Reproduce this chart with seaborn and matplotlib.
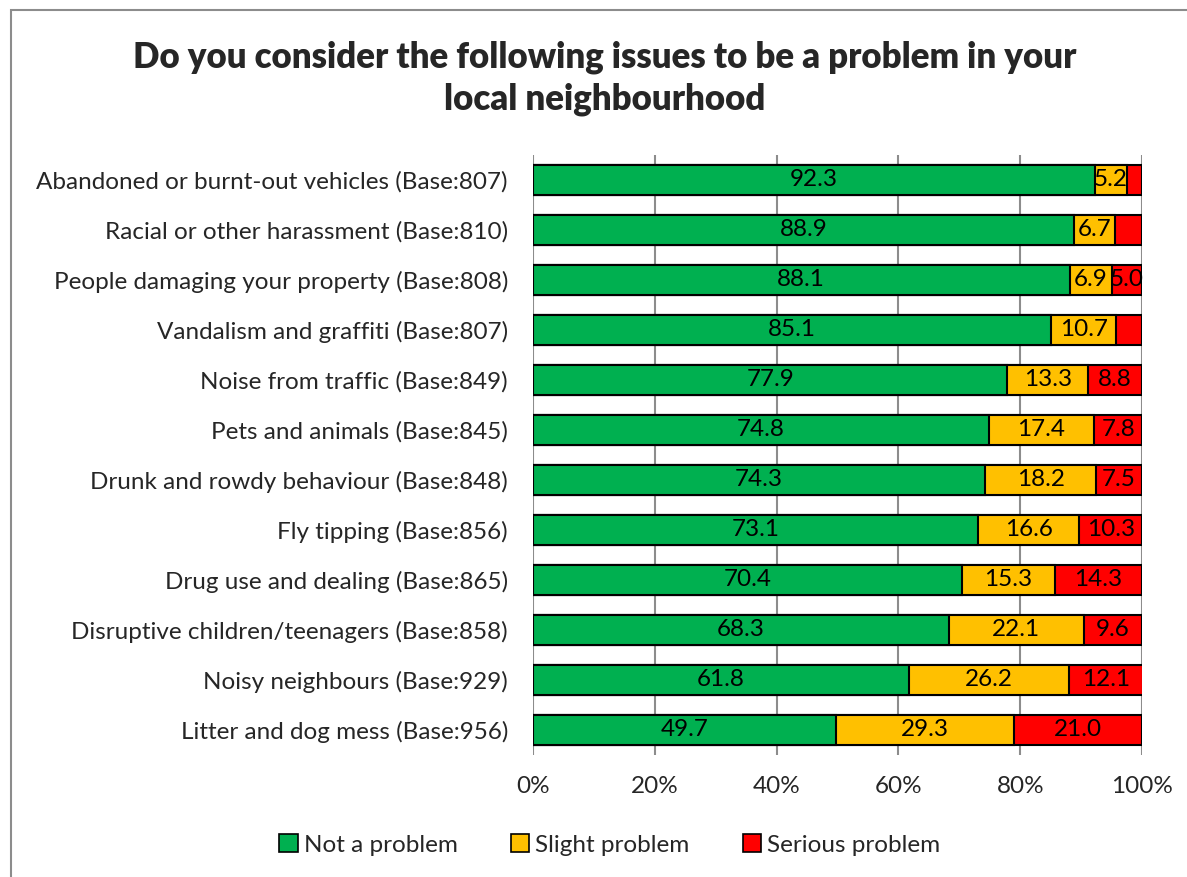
import numpy as np
import pandas as pd
import matplotlib
matplotlib.use("Agg")
import matplotlib.pyplot as plt
import seaborn as sns
from matplotlib.patches import Patch, Rectangle
from matplotlib.ticker import FuncFormatter

categories = [
    "Abandoned or burnt-out vehicles (Base:807)",
    "Racial or other harassment (Base:810)",
    "People damaging your property (Base:808)",
    "Vandalism and graffiti (Base:807)",
    "Noise from traffic (Base:849)",
    "Pets and animals (Base:845)",
    "Drunk and rowdy behaviour (Base:848)",
    "Fly tipping (Base:856)",
    "Drug use and dealing (Base:865)",
    "Disruptive children/teenagers (Base:858)",
    "Noisy neighbours (Base:929)",
    "Litter and dog mess (Base:956)",
]
not_a_problem = [92.3, 88.9, 88.1, 85.1, 77.9, 74.8, 74.3, 73.1, 70.4, 68.3, 61.8, 49.7]
slight_problem = [5.2, 6.7, 6.9, 10.7, 13.3, 17.4, 18.2, 16.6, 15.3, 22.1, 26.2, 29.3]
serious_problem = [2.5, 4.4, 5.0, 4.2, 8.8, 7.8, 7.5, 10.3, 14.3, 9.6, 12.1, 21.0]
series_names = ["Not a problem", "Slight problem", "Serious problem"]
colors = ["#00B050", "#FFC000", "#FF0000"]

sns.set_theme(style="white")
plt.rcParams['font.family'] = ['Lato', 'DejaVu Sans']

df = pd.DataFrame({
    "cat": categories,
    "a": not_a_problem,
    "b": slight_problem,
    "c": serious_problem,
})
df["cum_a"] = df["a"]
df["cum_b"] = df["a"] + df["b"]
df["cum_c"] = df["a"] + df["b"] + df["c"]

fig = plt.figure(figsize=(11.87, 8.77), dpi=100)
ax = fig.add_axes([533/1187, 1-755/877, (1142-533)/1187, 600/877])

ax.set_axisbelow(True)
for x in [0, 20, 40, 60, 80, 100]:
    ax.axvline(x, color="#8c8c8c", lw=1.5, zorder=0)

for col, color in zip(["cum_c", "cum_b", "cum_a"], colors[::-1]):
    sns.barplot(data=df, x=col, y="cat", orient="h", color=color, width=0.6,
                edgecolor="black", linewidth=1.5, saturation=1, ax=ax, zorder=2)

# labels
for i in range(len(categories)):
    starts = [0, not_a_problem[i], not_a_problem[i] + slight_problem[i]]
    vals = [not_a_problem[i], slight_problem[i], serious_problem[i]]
    for s, v in zip(starts, vals):
        if v >= 5:
            ax.text(s + v / 2, i, f"{v:.1f}", ha="center", va="center",
                    fontsize=17.5, color="black", zorder=5)

ax.set_xlim(0, 100)
ax.set_ylim(11.5, -0.5)
ax.set_xticks([0, 20, 40, 60, 80, 100])
ax.xaxis.set_major_formatter(FuncFormatter(lambda v, p: f"{int(v)}%"))
ax.set_xlabel("")
ax.set_ylabel("")
ax.tick_params(axis="x", labelsize=17.5, length=0, pad=15)
ax.tick_params(axis="y", labelsize=17.5, length=0, pad=18)
for s in ax.spines.values():
    s.set_visible(False)

fig.text(605/1187, 1-78/877, "Do you consider the following issues to be a problem in your\nlocal neighbourhood",
         ha="center", va="center", fontsize=25, fontweight="heavy", linespacing=1.3)

handles = [Patch(facecolor=c, edgecolor="black", linewidth=1.2, label=n) for c, n in zip(colors, series_names)]
fig.legend(handles=handles, loc="center", bbox_to_anchor=(610/1187, 1-845/877), ncol=3,
           frameon=False, fontsize=17.5, handlelength=0.75, handleheight=0.75,
           handletextpad=0.25, columnspacing=2.2)

fig.patches.append(Rectangle((11/1187, -0.1), 2, 1.1 - 10/877, transform=fig.transFigure,
                             fill=False, edgecolor="#8c8c8c", lw=1.5))

fig.savefig("out.png", dpi=100)
